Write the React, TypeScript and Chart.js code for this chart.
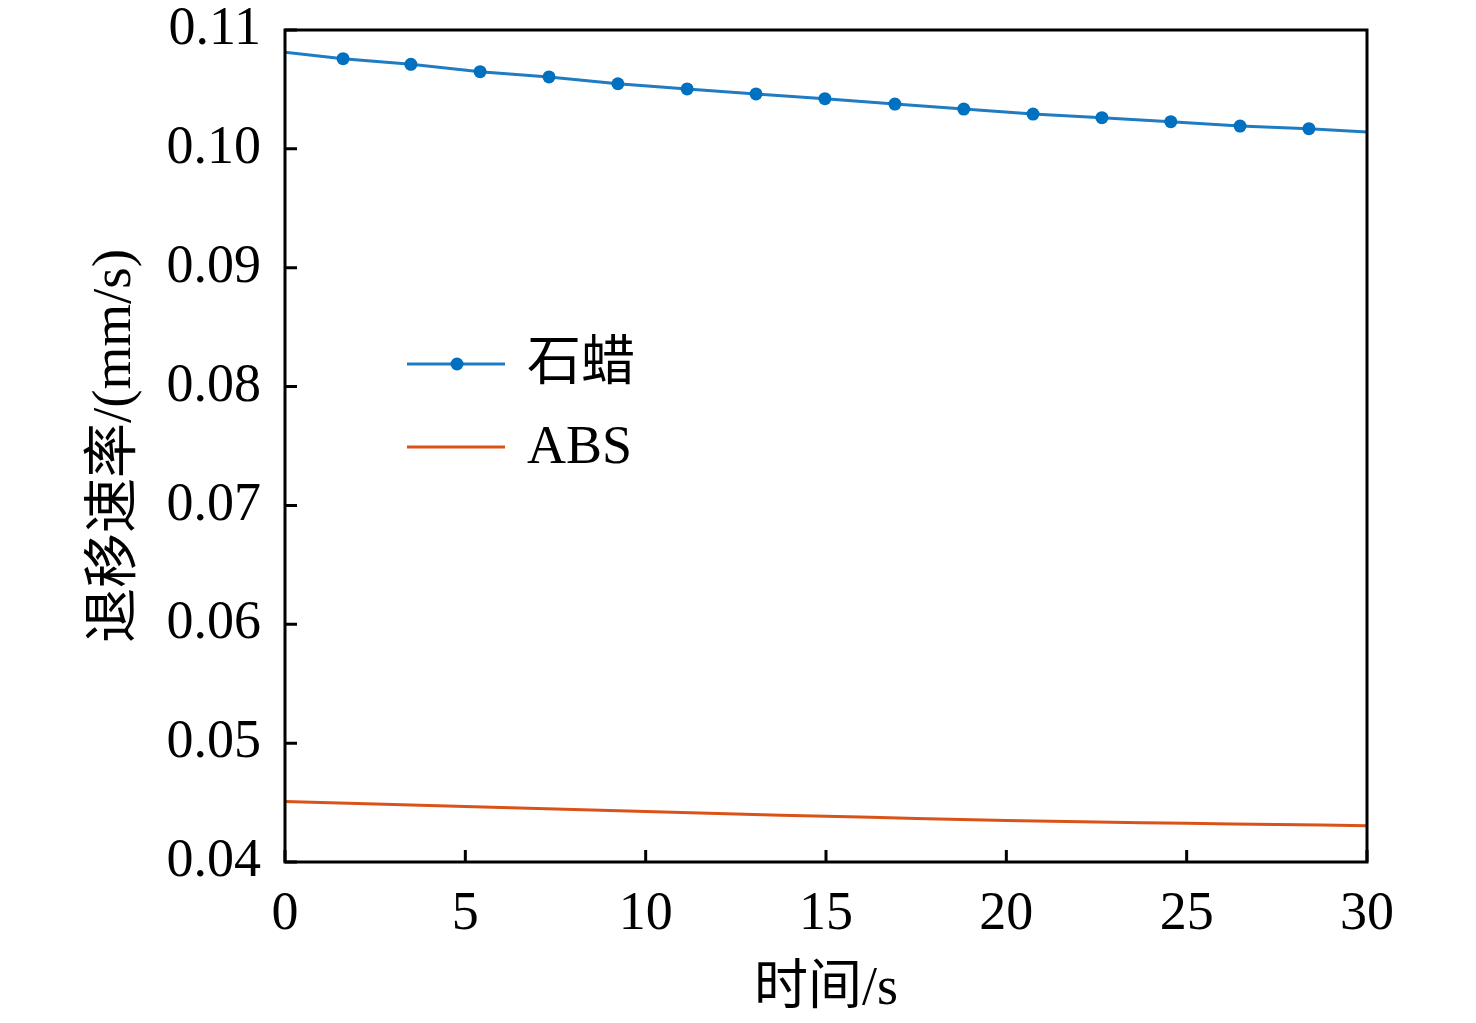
import { useEffect, useRef } from 'react'
import { Chart, registerables } from 'chart.js'

Chart.register(...registerables);

// 石蜡 (paraffin): line endpoints plus the marked samples
const waxTime = [0, 1.61, 3.49, 5.41, 7.32, 9.23, 11.15, 13.06, 14.97, 16.91, 18.82, 20.74, 22.65, 24.56, 26.48, 28.39, 30];
const waxRate = [0.10812, 0.10759, 0.10711, 0.10649, 0.10605, 0.10548, 0.10504, 0.10462, 0.10422, 0.10377, 0.10335, 0.10293, 0.10262, 0.10229, 0.10192, 0.10170, 0.10142];

// ABS
const absTime = [0, 2.5, 5, 7.5, 10, 12.5, 15, 17.5, 20, 22.5, 25, 27.5, 30];
const absRate = [0.04510, 0.04488, 0.04467, 0.04445, 0.04425, 0.04404, 0.04385, 0.04367, 0.04350, 0.04336, 0.04325, 0.04315, 0.04306];

const xTicks = [0, 5, 10, 15, 20, 25, 30];
const yTicks = [0.04, 0.05, 0.06, 0.07, 0.08, 0.09, 0.10, 0.11];

const seriesNames = ['石蜡', 'ABS'];
const LINE_BLUE = '#1f7cc2';
const MARK_BLUE = '#0070c0';
const ORANGE = '#d95319';
const FONT = '"Liberation Serif", "Times New Roman", "Noto Sans CJK SC", serif';

// inward ticks, full frame and the in-plot legend
const framePlugin = {
  id: 'frame',
  afterDraw(chart: Chart) {
    const { ctx, chartArea: a, scales } = chart;
    const x = scales.x;
    const y = scales.y;
    ctx.save();
    ctx.strokeStyle = '#000';
    ctx.lineWidth = 3;
    ctx.beginPath();
    for (const t of x.ticks) {
      const px = x.getPixelForValue(t.value);
      ctx.moveTo(px, a.bottom);
      ctx.lineTo(px, a.bottom - 12);
    }
    for (const t of y.ticks) {
      const py = y.getPixelForValue(t.value);
      ctx.moveTo(a.left, py);
      ctx.lineTo(a.left + 12, py);
    }
    ctx.stroke();
    ctx.strokeRect(a.left, a.top, a.right - a.left, a.bottom - a.top);

    // legend
    const lx = a.left + 122;
    const ly = [a.top + 334, a.top + 417];
    const colors = [LINE_BLUE, ORANGE];
    ctx.font = `54px ${FONT}`;
    ctx.textBaseline = 'middle';
    ctx.textAlign = 'left';
    seriesNames.forEach((name, i) => {
      ctx.strokeStyle = colors[i];
      ctx.lineWidth = 3;
      ctx.beginPath();
      ctx.moveTo(lx, ly[i]);
      ctx.lineTo(lx + 98, ly[i]);
      ctx.stroke();
      if (i === 0) {
        ctx.fillStyle = MARK_BLUE;
        ctx.beginPath();
        ctx.arc(lx + 50, ly[i], 6.5, 0, Math.PI * 2);
        ctx.fill();
      }
      ctx.fillStyle = '#000';
      ctx.fillText(name, lx + 120, ly[i] + 2);
    });
    ctx.restore();
  },
};

export default function App() {
  const canvasRef = useRef<HTMLCanvasElement>(null);

  useEffect(() => {
    document.body.style.margin = '0';
    if (!canvasRef.current) return;
    const lastWax = waxTime.length - 1;
    const chart = new Chart(canvasRef.current, {
      type: 'line',
      data: {
        datasets: [
          {
            label: seriesNames[0],
            data: waxTime.map((t, i) => ({ x: t, y: waxRate[i] })),
            borderColor: LINE_BLUE,
            borderWidth: 3,
            backgroundColor: MARK_BLUE,
            pointBackgroundColor: MARK_BLUE,
            pointBorderWidth: 0,
            pointRadius: (c: any) => (c.dataIndex === 0 || c.dataIndex === lastWax ? 0 : 6.5),
            tension: 0,
          },
          {
            label: seriesNames[1],
            data: absTime.map((t, i) => ({ x: t, y: absRate[i] })),
            borderColor: ORANGE,
            borderWidth: 3,
            pointRadius: 0,
            tension: 0.3,
          },
        ],
      },
      options: {
        animation: false,
        responsive: true,
        maintainAspectRatio: false,
        layout: { padding: { top: 30, right: 109, left: 0, bottom: 0 } },
        plugins: {
          legend: { display: false },
          tooltip: { enabled: false },
        },
        scales: {
          x: {
            type: 'linear',
            min: 0,
            max: 30,
            afterBuildTicks: (s: any) => { s.ticks = xTicks.map(v => ({ value: v })); },
            afterFit: (s: any) => { s.height = 161; s.paddingLeft = 0; s.paddingRight = 0; },
            grid: { display: false, drawTicks: false },
            border: { display: false },
            ticks: {
              color: '#000',
              padding: 20,
              maxRotation: 0,
              font: { family: FONT, size: 54 },
              callback: (v: any) => String(v),
            },
            title: {
              display: true,
              text: '时间/s',
              color: '#000',
              font: { family: FONT, size: 54 },
              padding: { top: 0, bottom: 1 },
            },
          },
          y: {
            type: 'linear',
            min: 0.04,
            max: 0.11,
            afterBuildTicks: (s: any) => { s.ticks = yTicks.map(v => ({ value: v })); },
            afterFit: (s: any) => { s.width = 285; s.paddingTop = 0; s.paddingBottom = 0; },
            grid: { display: false, drawTicks: false },
            border: { display: false },
            ticks: {
              color: '#000',
              padding: 24,
              font: { family: FONT, size: 54 },
              callback: (v: any) => Number(v).toFixed(2),
            },
            title: {
              display: true,
              text: '退移速率/(mm/s)',
              color: '#000',
              font: { family: FONT, size: 55 },
              padding: { top: 83, bottom: 0 },
            },
          },
        },
      },
      plugins: [framePlugin],
    });
    return () => chart.destroy();
  }, []);

  return (
    <div style={{ position: 'relative', width: 1476, height: 1023, background: '#fff' }}>
      <canvas ref={canvasRef} />
    </div>
  );
}
